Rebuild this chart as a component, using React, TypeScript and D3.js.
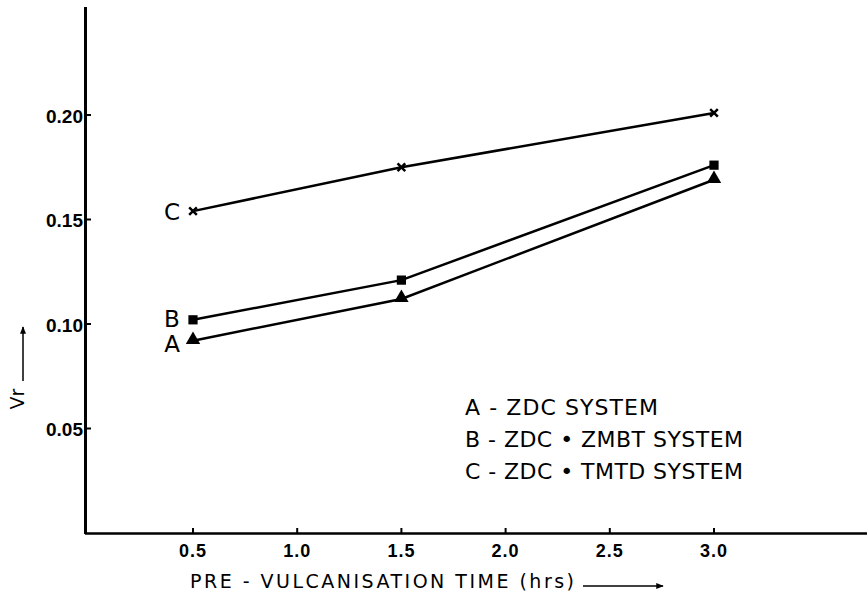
import { useMemo } from 'react';
import * as d3 from 'd3';

const xValues = [0.5, 1.5, 3.0];
const seriesA = [0.092, 0.112, 0.169];
const seriesB = [0.102, 0.121, 0.176];
const seriesC = [0.154, 0.175, 0.201];
const seriesNames = ['A', 'B', 'C'];
const xTicks = [0.5, 1.0, 1.5, 2.0, 2.5, 3.0];
const yTicks = [0.05, 0.1, 0.15, 0.2];
const legendLines = ['A - ZDC SYSTEM', 'B - ZDC \u2022 ZMBT SYSTEM', 'C - ZDC \u2022 TMTD SYSTEM'];
const xTitle = 'PRE - VULCANISATION  TIME (hrs)';
const yTitle = 'Vr';

const W = 867;
const H = 595;

function App() {
    const xScale = d3.scaleLinear().domain([0.5, 3.0]).range([193, 714]);
    const yScale = d3.scaleLinear().domain([0, 0.25]).range([533, 10.5]);

    const line = d3.line<number>()
        .x((d, i) => xScale(xValues[i]))
        .y((d) => yScale(d));

    const series = useMemo(() => [seriesA, seriesB, seriesC], []);

    const symbols = [d3.symbolTriangle, d3.symbolSquare, d3.symbolX];
    const symbolSizes = [90, 85, 40];

    const axisFont = '"Liberation Sans", Arial, sans-serif';
    const thinFont = '"DejaVu Sans", sans-serif';

    return (
        <svg width={W} height={H} style={{ position: 'absolute', left: 0, top: 0, background: '#fff' }}>
            <defs>
                <marker id="arr" viewBox="0 0 10 10" refX="9" refY="5" markerWidth="7" markerHeight="5" orient="auto">
                    <path d="M0,1 L10,5 L0,9 z" fill="#000" />
                </marker>
            </defs>

            {/* axes */}
            <line x1={85.5} x2={85.5} y1={7} y2={534} stroke="#000" strokeWidth={3} />
            <line x1={85} x2={W} y1={533.5} y2={533.5} stroke="#000" strokeWidth={2.5} />

            {yTicks.map((t) => (
                <g key={`yt-${t}`}>
                    <line x1={86} x2={91} y1={yScale(t)} y2={yScale(t)} stroke="#000" strokeWidth={2} />
                    <text x={83} y={yScale(t) + 1} textAnchor="end" dominantBaseline="central"
                        fontFamily={axisFont} fontWeight="bold" fontSize={19}>{t.toFixed(2)}</text>
                </g>
            ))}

            {xTicks.map((t) => (
                <g key={`xt-${t}`}>
                    <line x1={xScale(t)} x2={xScale(t)} y1={533} y2={528} stroke="#000" strokeWidth={2} />
                    <text x={xScale(t)} y={551} textAnchor="middle" dominantBaseline="central"
                        fontFamily={axisFont} fontWeight="bold" fontSize={18} letterSpacing={1}>{t.toFixed(1)}</text>
                </g>
            ))}

            {/* axis titles */}
            <text x={190} y={588} fontFamily={thinFont} fontSize={19} textLength={384} lengthAdjust="spacing">{xTitle}</text>
            <line x1={583} x2={663} y1={586} y2={586} stroke="#000" strokeWidth={1.5} markerEnd="url(#arr)" />

            <text transform="translate(24,399) rotate(-90)" textAnchor="middle" fontFamily={thinFont} fontSize={19}>{yTitle}</text>
            <line x1={23} x2={23} y1={381} y2={327} stroke="#000" strokeWidth={1.5} markerEnd="url(#arr)" />

            {/* series */}
            {series.map((vals, si) => (
                <g key={`s-${si}`}>
                    <path d={line(vals) || ''} fill="none" stroke="#000" strokeWidth={2.5} />
                    {vals.map((v, i) => (
                        <path key={`m-${si}-${i}`}
                            transform={`translate(${xScale(xValues[i])},${yScale(v) - (si === 0 ? 1 : 0)})`}
                            d={d3.symbol(symbols[si], symbolSizes[si])() || ''}
                            fill={si === 2 ? 'none' : '#000'}
                            stroke="#000" strokeWidth={si === 2 ? 2.5 : 0} />
                    ))}
                    <text x={xScale(xValues[0]) - 21} y={yScale(vals[0]) + (si === 0 ? 3 : si === 1 ? -1 : 1)}
                        textAnchor="middle" dominantBaseline="central"
                        fontFamily={thinFont} fontSize={23}>{seriesNames[si]}</text>
                </g>
            ))}

            {/* legend */}
            {legendLines.map((l, i) => (
                <text key={`lg-${i}`} x={465} y={415 + i * 32} fontFamily={thinFont} fontSize={22}
                    textLength={i === 0 ? 193 : 278} lengthAdjust="spacing">{l}</text>
            ))}
        </svg>
    );
}

export default App;
